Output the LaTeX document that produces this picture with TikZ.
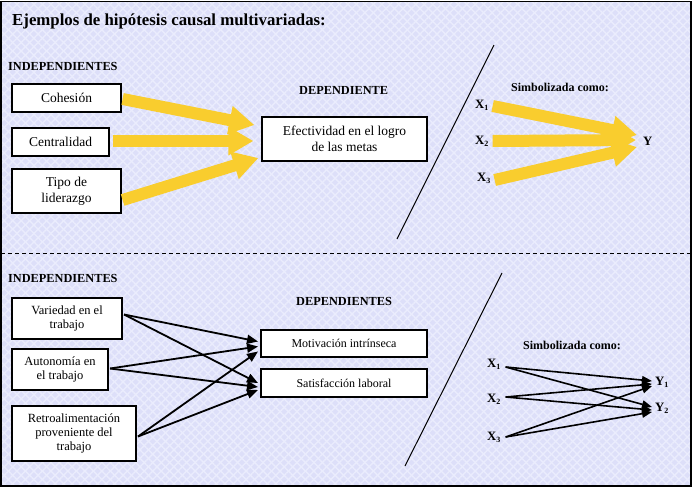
\documentclass[tikz,border=0pt]{standalone}
\usepackage{fontspec}
\setmainfont{Liberation Serif}
\usetikzlibrary{arrows.meta,calc,patterns.meta}
\definecolor{bgcol}{RGB}{221,223,249}
\definecolor{hatchcol}{RGB}{234,236,253}
\definecolor{yel}{RGB}{249,205,46}
\newcommand{\xsub}[2]{\textbf{#1}\raisebox{-0.35ex}{\fontsize{8}{8}\selectfont\textbf{#2}}}
\begin{document}
\begin{tikzpicture}[x=1pt,y=-1pt,
  boxa/.style={draw=black,line width=1.2pt,fill=white,inner sep=0pt,align=center,font=\fontsize{13.5}{16}\selectfont},
  boxb/.style={draw=black,line width=2pt,fill=white,inner sep=0pt,align=center,font=\fontsize{12.5}{14}\selectfont},
  head/.style={font=\bfseries\fontsize{12.3}{14}\selectfont,inner sep=0pt},
  symb/.style={font=\bfseries\fontsize{12}{14}\selectfont,inner sep=0pt},
  xlab/.style={font=\bfseries\fontsize{12.8}{14}\selectfont,inner sep=0pt},
  yarrow/.style={draw=yel,line width=12pt,-{Triangle[length=25pt,width=27pt]}},
  barrow/.style={draw=black,line width=1.8pt,-{Triangle[length=11pt,width=9pt]}},
  sarrow/.style={draw=black,line width=1.6pt,-{Triangle[length=10pt,width=8pt]}},
  divider/.style={draw=black,line width=1pt}
]
\useasboundingbox (0,0) rectangle (694,488);
\fill[white] (0,0) rectangle (694,488);
\fill[bgcol] (1,1.5) rectangle (691,486);
\fill[pattern={Lines[angle=45,distance=6pt,line width=1.4pt]},pattern color=hatchcol] (1,1.5) rectangle (691,486);
\fill[pattern={Lines[angle=-45,distance=6pt,line width=1.4pt]},pattern color=hatchcol] (1,1.5) rectangle (691,486);
\draw[line width=1.5pt] (1,1.5) rectangle (691,486);
\draw[line width=0.8pt,dash pattern=on 4pt off 3pt] (1,253) -- (691,253);

% ---------- top section ----------
\node[anchor=west,inner sep=0pt,font=\bfseries\fontsize{16.8}{19}\selectfont] (title) at (12,21) {Ejemplos de hipótesis causal multivariadas:};
\node[head,anchor=west] (indep1) at (8,66) {INDEPENDIENTES};
\node[head,anchor=west] (dep1) at (299,90) {DEPENDIENTE};

\node[boxa,minimum width=109pt,minimum height=28pt] (coh) at (66.5,98) {Cohesión};
\node[boxa,minimum width=97pt,minimum height=28pt] (cen) at (60.5,142) {Centralidad};
\node[boxa,minimum width=109pt,minimum height=44pt] (tipo) at (66.5,191) {Tipo de\\liderazgo};
\node[boxa,minimum width=165pt,minimum height=44pt] (efe) at (344.5,139) {Efectividad en el logro\\de las metas};

\draw[yarrow] ($(coh.east)+(1,1)$) -- ($(efe.west)+(-7,-14)$);
\draw[yarrow] ($(cen.east)+(3,-1)$) -- ($(efe.west)+(-8,2)$);
\draw[yarrow] ($(tipo.east)+(1,9)$) -- ($(efe.west)+(-3,19)$);

\coordinate (d1a) at (397,239);
\coordinate (d1b) at (494,45);
\draw[divider] (d1a) -- (d1b);

\node[symb,anchor=west] (simb1) at (511,87) {Simbolizada como:};
\node[xlab,anchor=west] (tx1) at (475,105) {\xsub{X}{1}};
\node[xlab,anchor=west] (tx2) at (475,141) {\xsub{X}{2}};
\node[xlab,anchor=west] (tx3) at (477,178) {\xsub{X}{3}};
\node[xlab,anchor=west] (ty) at (643,141) {\textbf{Y}};

\draw[yarrow] ($(tx1.east)+(4,1)$) -- ($(ty.west)+(-6,-6)$);
\draw[yarrow] ($(tx2.east)+(4,0)$) -- ($(ty.west)+(-7,-1)$);
\draw[yarrow] ($(tx3.east)+(4,2)$) -- ($(ty.west)+(-6,6)$);

% ---------- bottom section ----------
\node[head,anchor=west] (indep2) at (8,278) {INDEPENDIENTES};
\node[head,anchor=west] (dep2) at (296,301) {DEPENDIENTES};

\node[boxb,minimum width=110pt,minimum height=41pt] (var) at (67,318.5) {Variedad en el\\trabajo};
\node[boxb,minimum width=96pt,minimum height=41pt] (aut) at (60,369.5) {Autonomía en\\el trabajo};
\node[boxb,minimum width=124pt,minimum height=55pt] (ret) at (74,433.5) {Retroalimentación\\proveniente del\\trabajo};
\node[boxb,minimum width=166pt,minimum height=27pt,font=\fontsize{12}{14}\selectfont] (mot) at (344,343.5) {Motivación intrínseca};
\node[boxb,minimum width=166pt,minimum height=28pt,font=\fontsize{12}{14}\selectfont] (sat) at (344,383) {Satisfacción laboral};

\draw[barrow] ($(var.east)+(1,-4)$) -- ($(mot.west)+(-2,-2)$);
\draw[barrow] ($(var.east)+(1,-4)$) -- ($(sat.west)+(-2,0)$);
\draw[barrow] ($(aut.east)+(1,-1)$) -- ($(mot.west)+(-2,3)$);
\draw[barrow] ($(aut.east)+(1,-1)$) -- ($(sat.west)+(-2,4)$);
\draw[barrow] ($(ret.east)+(1,3)$) -- ($(mot.west)+(-2,8)$);
\draw[barrow] ($(ret.east)+(1,3)$) -- ($(sat.west)+(-2,7)$);

\coordinate (d2a) at (405,466);
\coordinate (d2b) at (502,273);
\draw[divider] (d2a) -- (d2b);

\node[symb,anchor=west] (simb2) at (523,345) {Simbolizada como:};
\node[xlab,anchor=west] (bx1) at (487,364) {\xsub{X}{1}};
\node[xlab,anchor=west] (bx2) at (487,399) {\xsub{X}{2}};
\node[xlab,anchor=west] (bx3) at (487,437) {\xsub{X}{3}};
\node[xlab,anchor=west] (by1) at (655,382) {\xsub{Y}{1}};
\node[xlab,anchor=west] (by2) at (655,408) {\xsub{Y}{2}};

\draw[sarrow] ($(bx1.east)+(5,3)$) -- ($(by1.west)+(-3,-1)$);
\draw[sarrow] ($(bx1.east)+(5,3)$) -- ($(by2.west)+(-3,-1)$);
\draw[sarrow] ($(bx2.east)+(5,-2)$) -- ($(by1.west)+(-3,2)$);
\draw[sarrow] ($(bx2.east)+(5,-2)$) -- ($(by2.west)+(-3,2)$);
\draw[sarrow] ($(bx3.east)+(5,0)$) -- ($(by1.west)+(-3,4)$);
\draw[sarrow] ($(bx3.east)+(5,0)$) -- ($(by2.west)+(-3,4)$);
\end{tikzpicture}
\end{document}
